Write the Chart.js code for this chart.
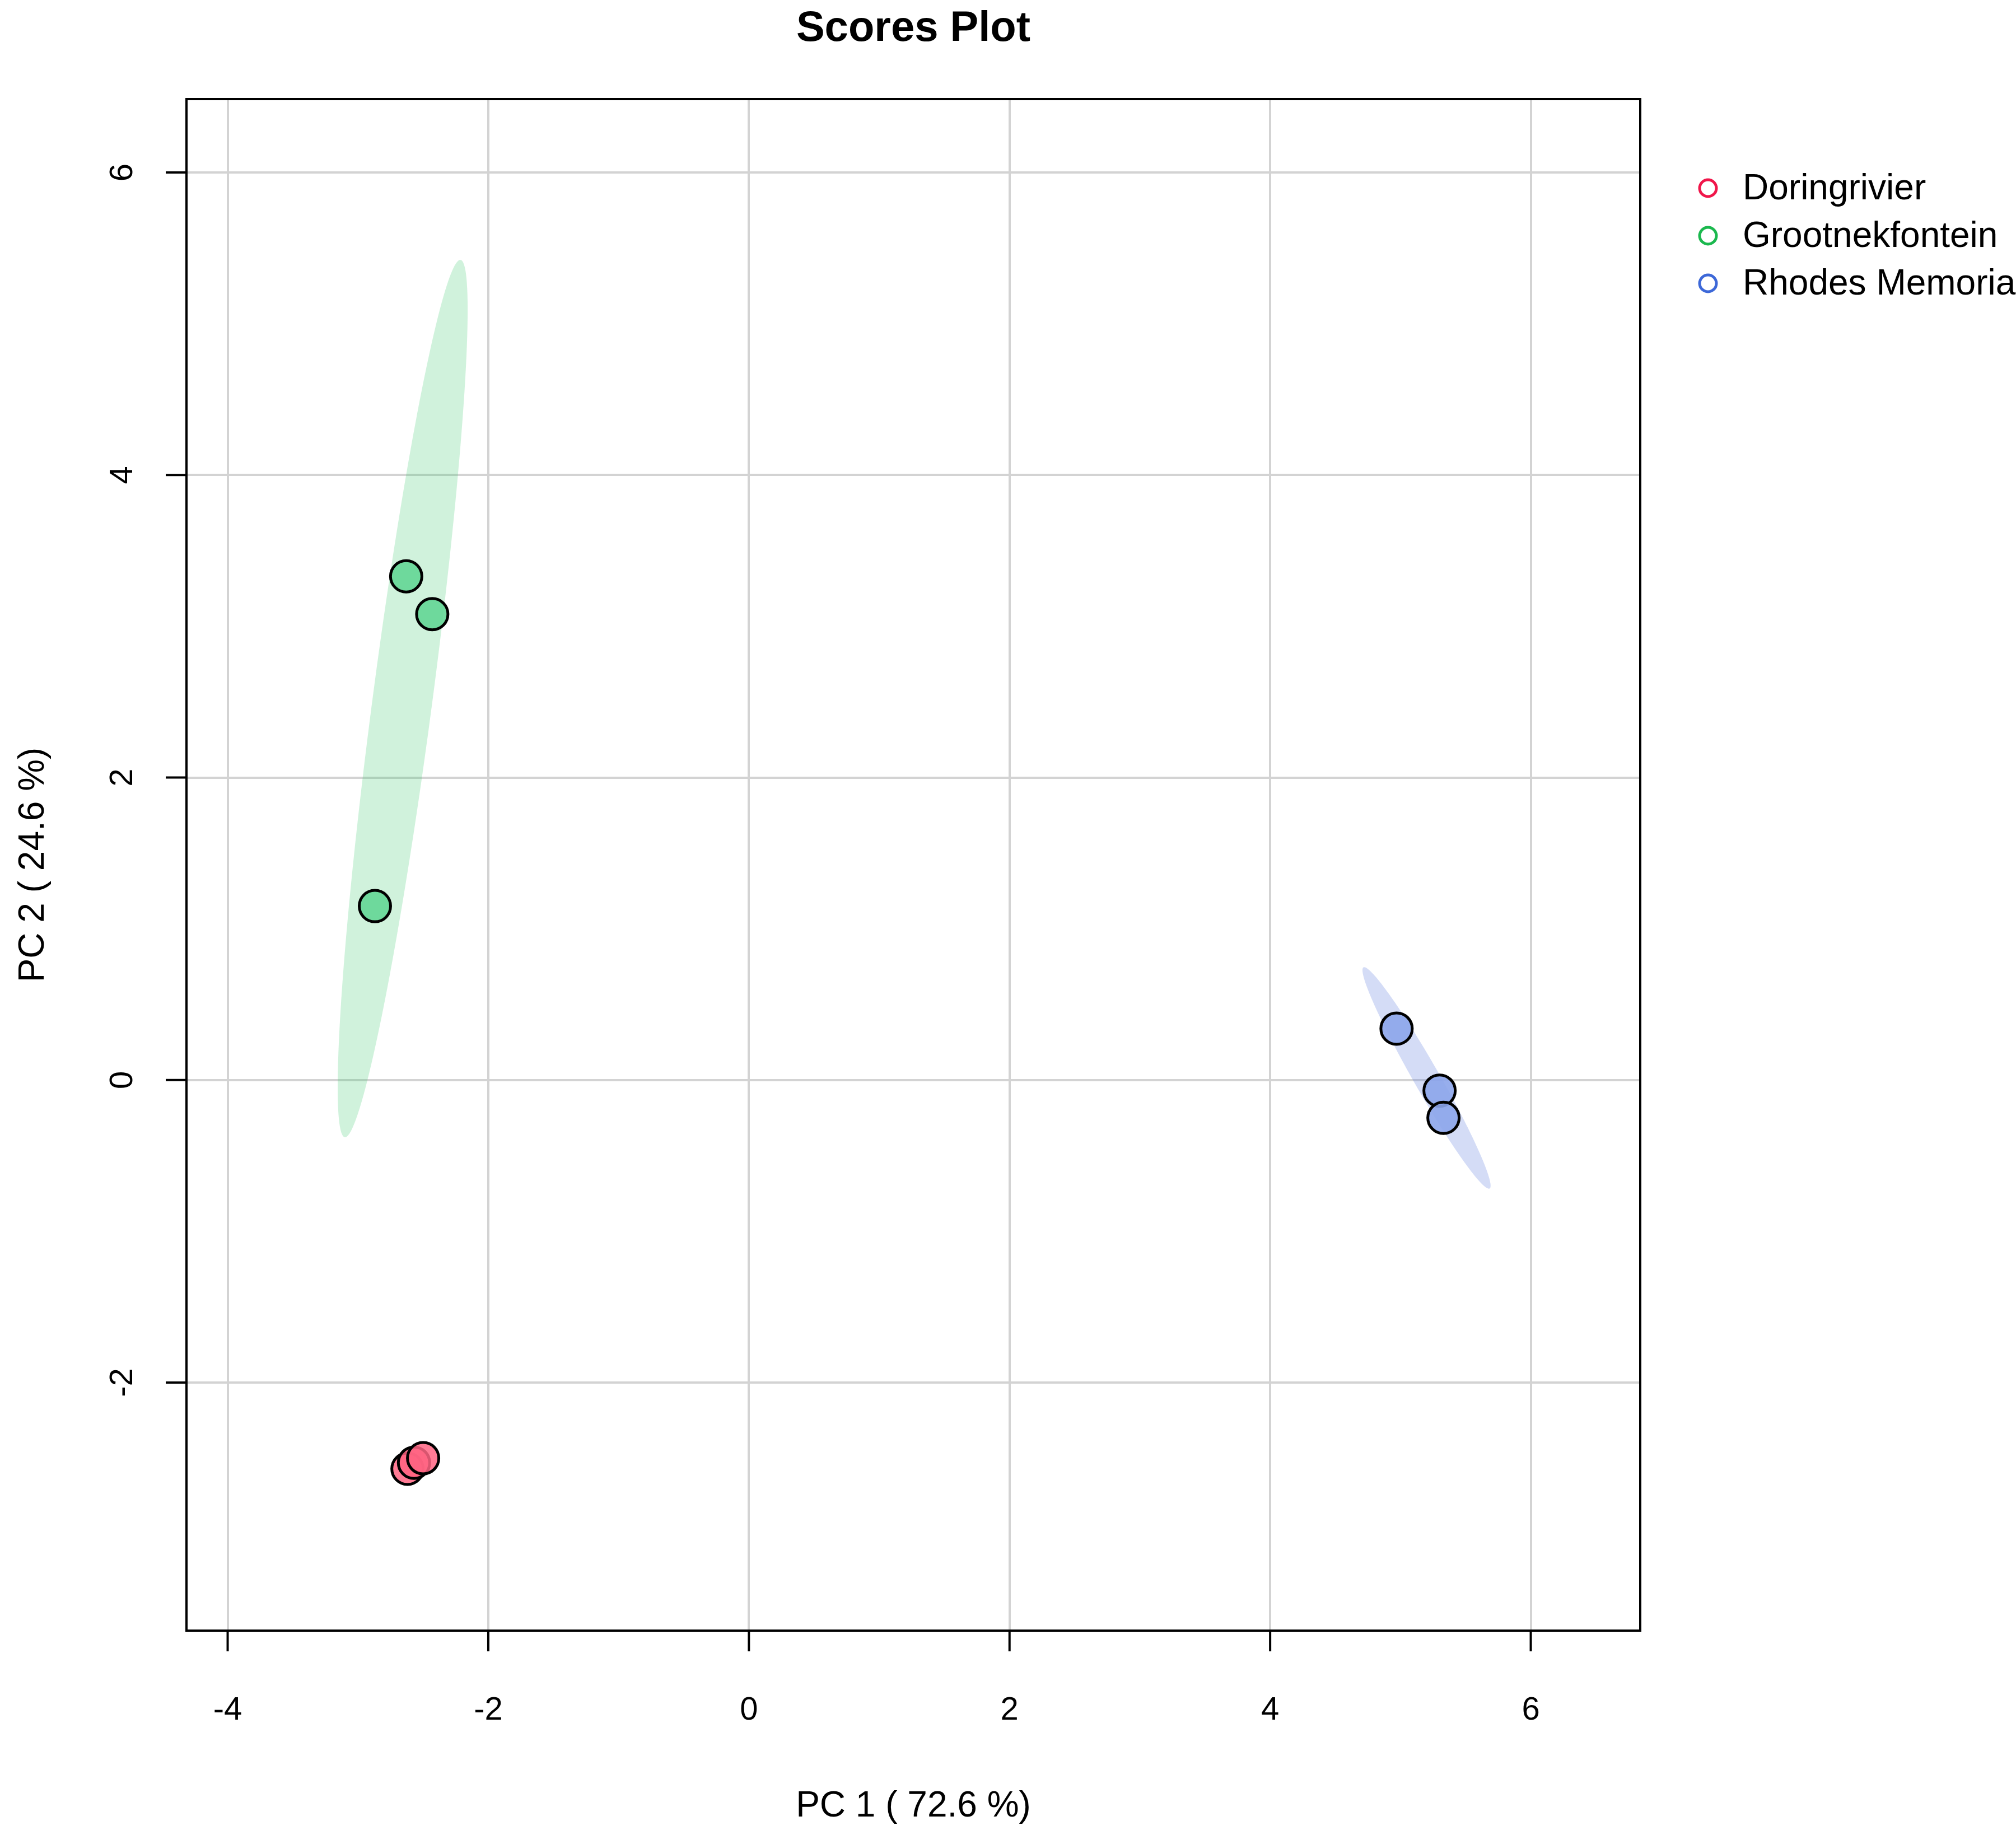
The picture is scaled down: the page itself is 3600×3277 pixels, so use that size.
<!DOCTYPE html>
<html><head><meta charset="utf-8">
<script src="https://cdn.jsdelivr.net/npm/chart.js@4.4.0/dist/chart.umd.min.js"></script>
<style>html,body{margin:0;padding:0;background:#fff}#w{width:3600px;height:3277px}</style>
</head><body><div id="w"><canvas id="c"></canvas></div>
<script>
const groups = ["Doringrivier","Grootnekfontein","Rhodes Memorial"];
const redX = [-2.62,-2.57,-2.50], redY = [-2.57,-2.53,-2.50];
const greenX = [-2.63,-2.43,-2.87], greenY = [3.33,3.08,1.15];
const blueX = [4.97,5.30,5.33], blueY = [0.34,-0.07,-0.25];
const xTicks = [-4,-2,0,2,4,6], yTicks = [-2,0,2,4,6];
// ellipse: center, major half-vector, minor half-vector (data units)
const greenEll = {c:[-2.657,2.522], M:[0.444,2.90], m:[0.227,-0.026]};
const blueEll = {c:[5.20,0.014], M:[-0.484,0.731], m:[0.086,0.042]};

const pts=(xs,ys)=>xs.map((x,i)=>({x,y:ys[i]}));
const A={left:333,top:177,right:2929,bottom:2912};
const font='"Liberation Sans", Arial, sans-serif';
const ells={id:'ells',beforeDatasetsDraw(ch){
 const c=ch.ctx,xs=ch.scales.x,ys=ch.scales.y;
 [[greenEll,'rgba(60,200,110,0.24)'],[blueEll,'rgba(90,120,220,0.26)']].forEach(([e,col])=>{
  c.save();c.fillStyle=col;c.beginPath();
  for(let i=0;i<=180;i++){const t=i/180*2*Math.PI;
   const x=xs.getPixelForValue(e.c[0]+e.M[0]*Math.cos(t)+e.m[0]*Math.sin(t));
   const y=ys.getPixelForValue(e.c[1]+e.M[1]*Math.cos(t)+e.m[1]*Math.sin(t));
   i?c.lineTo(x,y):c.moveTo(x,y);}
  c.closePath();c.fill();c.restore();});}};
const deco={id:'deco',afterDraw(ch){
 const c=ch.ctx,xs=ch.scales.x,ys=ch.scales.y,a=ch.chartArea;
 c.save();c.strokeStyle='#000';c.lineWidth=4;c.strokeRect(a.left,a.top,a.right-a.left,a.bottom-a.top);
 c.fillStyle='#000';c.font='58px '+font;c.textAlign='center';c.textBaseline='middle';
 xTicks.forEach(v=>{const x=xs.getPixelForValue(v);c.beginPath();c.moveTo(x,a.bottom);c.lineTo(x,a.bottom+37);c.stroke();c.fillText(v,x,3055);});
 yTicks.forEach(v=>{const y=ys.getPixelForValue(v);c.beginPath();c.moveTo(a.left,y);c.lineTo(a.left-37,y);c.stroke();
  c.save();c.translate(220,y);c.rotate(-Math.PI/2);c.fillText(v,0,0);c.restore();});
 c.font='64px '+font;c.fillText('PC 1 ( 72.6 %)',(a.left+a.right)/2,3226);
 c.save();c.translate(60,(a.top+a.bottom)/2);c.rotate(-Math.PI/2);c.fillText('PC 2 ( 24.6 %)',0,0);c.restore();
 c.font='bold 76px '+font;c.fillText('Scores Plot',(a.left+a.right)/2,52);
 const lc=['#F0164A','#1BB84E','#3D68D8'];c.textAlign='left';c.font='64px '+font;
 groups.forEach((g,i)=>{const y=336+i*85;c.strokeStyle=lc[i];c.lineWidth=5;c.beginPath();c.arc(3050,y,15,0,2*Math.PI);c.stroke();c.fillStyle='#000';c.fillText(g,3112,y+2);});
 c.restore();}};
const sc=(d,col)=>({type:'scatter',data:d,backgroundColor:col,borderColor:'#000',borderWidth:5,pointRadius:28});
new Chart(document.getElementById('c'),{type:'scatter',
 data:{datasets:[sc(pts(redX,redY),'rgba(255,100,130,0.85)'),sc(pts(greenX,greenY),'rgba(100,215,150,0.9)'),sc(pts(blueX,blueY),'rgba(140,165,235,0.9)')]},
 options:{responsive:true,maintainAspectRatio:false,animation:false,devicePixelRatio:1,
  layout:{padding:{left:A.left,top:A.top,right:3600-A.right,bottom:3277-A.bottom}},
  plugins:{legend:{display:false},tooltip:{enabled:false}},
  scales:{x:{min:-4.316,max:6.84,ticks:{display:false,stepSize:2},border:{display:false},grid:{color:'#d3d3d3',lineWidth:4,drawTicks:false}},
   y:{min:-3.64,max:6.485,ticks:{display:false,stepSize:2},border:{display:false},grid:{color:'#d3d3d3',lineWidth:4,drawTicks:false}}}},
 plugins:[ells,deco]});
</script></body></html>
